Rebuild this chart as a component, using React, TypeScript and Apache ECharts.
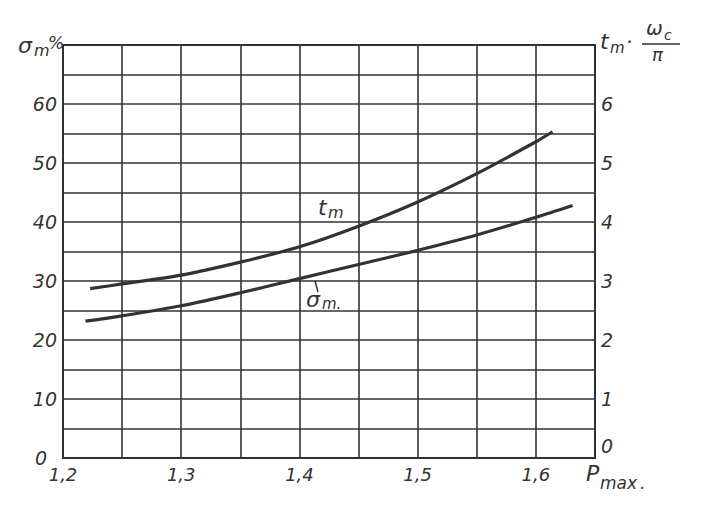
import React, { useEffect, useRef } from "react";
import * as echarts from "echarts";

const xTicks = ["1,2", "1,3", "1,4", "1,5", "1,6"];
const tmX = [1.223, 1.25, 1.3, 1.35, 1.4, 1.45, 1.5, 1.55, 1.6, 1.614];
const tmY = [2.87, 2.95, 3.1, 3.32, 3.58, 3.93, 4.34, 4.82, 5.36, 5.53];
const smX = [1.219, 1.25, 1.3, 1.35, 1.4, 1.45, 1.5, 1.55, 1.6, 1.631];
const smY = [23.2, 24.1, 25.8, 28.0, 30.4, 32.8, 35.2, 37.8, 40.8, 42.8];
const leftTicks = [0, 10, 20, 30, 40, 50, 60];
const rightTicks = [0, 1, 2, 3, 4, 5, 6];

const INK = "#333";
const FONT = "DejaVu Sans";

export default function App() {
  const ref = useRef<HTMLDivElement>(null);
  useEffect(() => {
    if (!ref.current) return;
    const chart = echarts.init(ref.current, null, { renderer: "svg" });
    const txt = (x: number, y: number, text: string, size: number, extra: any = {}) => ({
      type: "text",
      x,
      y,
      style: { text, fontSize: size, fontStyle: "italic", fontFamily: FONT, fill: INK, ...extra },
    });
    const labStyle = { fontSize: 19, fontStyle: "italic", fontFamily: FONT, color: INK };
    chart.setOption({
      animation: false,
      backgroundColor: "#fff",
      grid: { left: 63, right: 114, top: 45, bottom: 60, show: true, borderColor: INK, borderWidth: 2, backgroundColor: "transparent" },
      xAxis: {
        type: "value",
        min: 1.2,
        max: 1.65,
        interval: 0.05,
        axisLine: { show: false },
        axisTick: { show: false },
        splitLine: { show: true, lineStyle: { color: INK, width: 1.6 } },
        axisLabel: {
          margin: 7,
          ...labStyle,
          fontSize: 18,
          formatter: (v: number) => {
            const k = Math.round((v - 1.2) * 10 * 1000) / 1000;
            if (Math.abs(k - Math.round(k)) < 1e-6 && Math.round(k) < xTicks.length) return xTicks[Math.round(k)];
            return "";
          },
        },
      },
      yAxis: [
        {
          type: "value",
          min: 0,
          max: 70,
          interval: 5,
          axisLine: { show: false },
          axisTick: { show: false },
          splitLine: { show: true, lineStyle: { color: INK, width: 1.6 } },
          axisLabel: {
            margin: 6,
            ...labStyle,
            formatter: (v: number) => (v === 0 ? "{z|0}" : leftTicks.includes(v) ? String(v) : ""),
            rich: { z: { ...labStyle, padding: [0, 10, 0, 0] } },
          },
        },
        {
          type: "value",
          min: 0,
          max: 7,
          interval: 0.5,
          position: "right",
          axisLine: { show: false },
          axisTick: { show: false },
          splitLine: { show: false },
          axisLabel: {
            margin: 6,
            ...labStyle,
            formatter: (v: number) => (v === 0 ? "{z|0}" : rightTicks.includes(v) ? String(v) : ""),
            rich: { z: { ...labStyle, padding: [0, 0, 24, 0] } },
          },
        },
      ],
      series: [
        {
          type: "line",
          yAxisIndex: 1,
          smooth: 0.3,
          showSymbol: false,
          lineStyle: { color: INK, width: 3.2 },
          data: tmX.map((x, i) => [x, tmY[i]]),
        },
        {
          type: "line",
          yAxisIndex: 0,
          smooth: 0.3,
          showSymbol: false,
          lineStyle: { color: INK, width: 3.2 },
          data: smX.map((x, i) => [x, smY[i]]),
        },
      ],
      graphic: [
        txt(18, 34, "σ", 22),
        txt(34, 42, "m", 16),
        txt(48, 34, "%", 17),
        txt(600, 30, "t", 22),
        txt(610, 40, "m", 15),
        txt(626, 32, "·", 20),
        txt(646, 18, "ω", 20),
        txt(664, 28, "c", 14),
        { type: "line", shape: { x1: 642, y1: 44, x2: 680, y2: 44 }, style: { stroke: INK, lineWidth: 1.5 } },
        txt(652, 45, "π", 18),
        txt(586, 462, "P", 22),
        txt(600, 474, "max", 17),
        txt(640, 474, ".", 17),
        txt(318, 196, "t", 22),
        txt(328, 204, "m", 16),
        { type: "line", shape: { x1: 315, y1: 281, x2: 318, y2: 292 }, style: { stroke: INK, lineWidth: 1.5 } },
        txt(306, 288, "σ", 22),
        txt(322, 296, "m.", 15),
      ],
    });
    return () => chart.dispose();
  }, []);
  return <div ref={ref} style={{ width: 709, height: 518, position: "absolute", left: 0, top: 0 }} />;
}
